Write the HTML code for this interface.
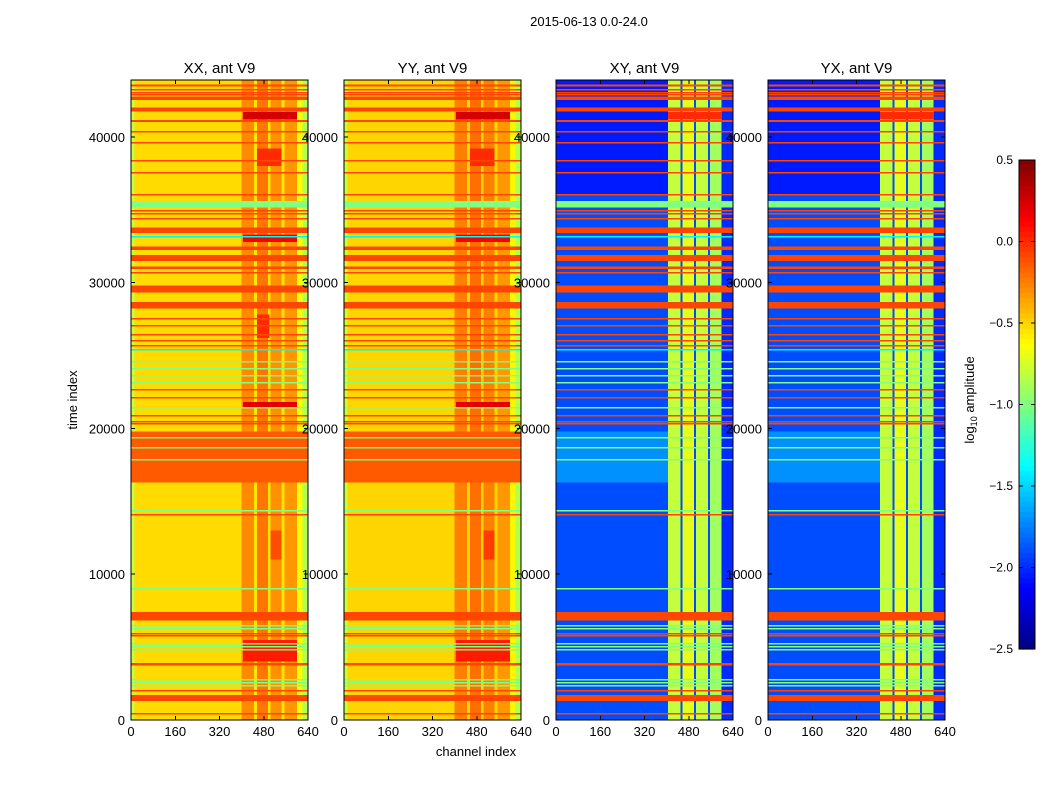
<!DOCTYPE html>
<html><head><meta charset="utf-8"><style>
body{margin:0;background:#fff;}
svg{display:block;font-family:"Liberation Sans",sans-serif;}
</style></head><body>
<svg id="fig" width="1050" height="800" viewBox="0 0 1050 800">
<text x="589" y="26" text-anchor="middle" font-size="13">2015-06-13 0.0-24.0</text>
<text x="476" y="756" text-anchor="middle" font-size="13">channel index</text>
<text transform="translate(77,400) rotate(-90)" text-anchor="middle" font-size="13">time index</text>
<text transform="translate(974,400) rotate(-90)" text-anchor="middle" font-size="13">log<tspan font-size="9" dy="3">10</tspan><tspan dy="-3"> amplitude</tspan></text>
<g id="panels" shape-rendering="crispEdges"></g>
<g id="cbar"></g>
</svg>
<script>
// ---- data ----
const panelTitles = ["XX, ant V9","YY, ant V9","XY, ant V9","YX, ant V9"];
const xTicks = [0,160,320,480,640];
const yTicks = [0,10000,20000,30000,40000];
const cbarTicks = [0.5,0.0,-0.5,-1.0,-1.5,-2.0,-2.5];
// column bands: [ch0, ch1, log amplitude]
const xxCols = [[0,12,-0.8],[12,400,-0.52],[400,445,-0.28],[445,455,-0.55],[455,495,-0.22],[495,505,-0.55],[505,545,-0.3],[545,555,-0.55],[555,600,-0.32],[600,620,-0.62],[620,640,-0.85]];
const yyCols = [[0,12,-0.8],[12,400,-0.5],[400,445,-0.25],[445,455,-0.5],[455,495,-0.2],[495,505,-0.5],[505,545,-0.25],[545,555,-0.5],[555,600,-0.32],[600,620,-0.6],[620,640,-0.85]];
const xyCols = [[0,405,-1.9],[405,451,-0.8],[451,458,-1.9],[458,499,-0.7],[499,506,-1.9],[506,550,-0.8],[550,557,-1.9],[557,599,-0.9],[599,640,-2.0]];
const yxCols = [[0,405,-1.9],[405,451,-0.8],[451,458,-1.9],[458,499,-0.7],[499,506,-1.9],[506,550,-0.8],[550,557,-1.9],[557,599,-0.9],[599,640,-2.0]];
// regions: [t0, t1, ch0, ch1, value]
const xxRegions = [[16300,19800,0,640,-0.14],[41200,41700,405,600,0.25],[32800,33300,405,600,0.15],[21400,21800,405,600,0.2],[4000,5500,405,600,0.05],[38000,39200,455,545,0.0],[26200,27800,455,500,0.0],[11000,13000,505,545,-0.1]];
const yyRegions = [[16300,19800,0,640,-0.14],[41200,41700,405,600,0.25],[32800,33300,405,600,0.15],[21400,21800,405,600,0.2],[4000,5500,405,600,0.05],[38000,39200,455,545,0.0],[11000,13000,505,545,-0.05]];
const xyRegions = [[36000,43900,0,405,-2.05],[16300,19800,0,405,-1.7],[41200,41700,405,600,0.0]];
const yxRegions = [[36000,43900,0,405,-2.05],[16300,19800,0,405,-1.7],[41200,41700,405,600,0.0]];
// wide stripes [t0, t1, value]
const wideStripes = [[43450,43600,-0.08],[42540,42770,-0.08],[41740,42010,-0.08],[41010,41170,-0.08],[38300,38420,-0.08],[35150,35600,-1.0],[33420,33780,-0.08],[32250,32480,-0.08],[31490,31900,-0.08],[30940,31100,-0.08],[29340,29800,-0.08],[28240,28660,-0.08],[6810,7410,-0.08],[3730,3910,-0.08],[1320,1710,-0.08]];
// thin stripe times and values
const thinTimes = [43290,43110,42930,40410,39680,37600,36090,34990,34785,34440,30760,27580,27100,26480,26070,25730,22690,22180,20930,20540,20380,14130,5950,5830,2060,480,24630,24150,23670,23210,14410,9060,6520,6310,5300,5100,4900,2800,2600,2400,21500,19400,18700,17900,33220,25450];
const thinValues = [-0.08,-0.08,-0.08,-0.08,-0.08,-0.08,-0.08,-0.08,-0.08,-0.08,-0.08,-0.08,-0.08,-0.08,-0.08,-0.08,-0.08,-0.08,-0.08,-0.08,-0.08,-0.08,-0.08,-0.08,-0.08,-0.08,-1.0,-1.0,-1.0,-1.0,-1.0,-1.0,-1.0,-1.0,-1.0,-1.0,-1.0,-1.0,-1.0,-1.0,-1.0,-1.0,-1.0,-1.0,-1.4,-1.4];

const NS="http://www.w3.org/2000/svg";
const VMIN=-2.5, VMAX=0.5, TMAX=43900, CMAX=640;
const lefts=[131,344,556,768], PW=177, TOP=80, BOT=720;
function clip(x){return Math.max(0,Math.min(1,x));}
function jet(v){const n=clip((v-VMIN)/(VMAX-VMIN));
 const r=clip(1.5-Math.abs(4*n-3)),g=clip(1.5-Math.abs(4*n-2)),b=clip(1.5-Math.abs(4*n-1));
 return "rgb("+Math.round(r*255)+","+Math.round(g*255)+","+Math.round(b*255)+")";}
function mk(tag,attrs,parent){const e=document.createElementNS(NS,tag);for(const k in attrs)e.setAttribute(k,attrs[k]);parent.appendChild(e);return e;}
const root=document.getElementById("panels");
const colsAll=[xxCols,yyCols,xyCols,yxCols];
const regAll=[xxRegions,yyRegions,xyRegions,yxRegions];
for(let p=0;p<4;p++){
 const L=lefts[p];
 const xs=c=>L+c/CMAX*PW;
 const ys=t=>BOT-t/TMAX*(BOT-TOP);
 const g=mk("g",{},root);
 
 
 colsAll[p].forEach(c=>{const r=mk("rect",{x:xs(c[0]),y:TOP,width:xs(c[1])-xs(c[0]),height:BOT-TOP,fill:jet(c[2])},g);
  
  });
 regAll[p].forEach(c=>{const r=mk("rect",{x:xs(c[2]),y:ys(c[1]),width:xs(c[3])-xs(c[2]),height:ys(c[0])-ys(c[1]),fill:jet(c[4])},g);
  
  });
 wideStripes.forEach(s=>{const r=mk("rect",{x:L,y:ys(s[1]),width:PW,height:ys(s[0])-ys(s[1]),fill:jet(s[2])},g);
  
  });
 thinTimes.forEach((t,i)=>{const r=mk("rect",{x:L,y:Math.round(ys(t)),width:PW,height:1.4,fill:jet(thinValues[i])},g);
  
  });
 const f=mk("rect",{x:L,y:TOP,width:PW,height:BOT-TOP,fill:"none",stroke:"#000","stroke-width":1},g);
 
 
 const tt=mk("text",{x:L+PW/2,y:73,"text-anchor":"middle","font-size":15},g);
 tt.textContent=panelTitles[p];
 
 
 xTicks.forEach(v=>{const x=xs(v);
  mk("line",{x1:x,x2:x,y1:BOT,y2:BOT-4,stroke:"#000"},g);
  mk("line",{x1:x,x2:x,y1:TOP,y2:TOP+4,stroke:"#000"},g);
  const t=mk("text",{x:x,y:BOT+16,"text-anchor":"middle","font-size":13},g);t.textContent=v;
  
  });
 yTicks.forEach(v=>{const y=ys(v);
  mk("line",{x1:L,x2:L+4,y1:y,y2:y,stroke:"#000"},g);
  mk("line",{x1:L+PW,x2:L+PW-4,y1:y,y2:y,stroke:"#000"},g);
  const t=mk("text",{x:L-6,y:y+5,"text-anchor":"end","font-size":13},g);t.textContent=v;
  
  });
}
// colorbar
const cb=document.getElementById("cbar");
const CX=1019,CW=16,CT=160,CB=649;
const cys=v=>CB-(v-VMIN)/(VMAX-VMIN)*(CB-CT);
const NSTEP=96;
for(let i=0;i<NSTEP;i++){const v0=VMIN+(VMAX-VMIN)*i/NSTEP,v1=VMIN+(VMAX-VMIN)*(i+1)/NSTEP;
 const r=mk("rect",{x:CX,y:cys(v1),width:CW,height:cys(v0)-cys(v1)+0.6,fill:jet((v0+v1)/2)},cb);
 
 }
const cf=mk("rect",{x:CX,y:CT,width:CW,height:CB-CT,fill:"none",stroke:"#000"},cb);


cbarTicks.forEach(v=>{const y=cys(v);
 mk("line",{x1:CX,x2:CX+4,y1:y,y2:y,stroke:"#000"},cb);
 mk("line",{x1:CX+CW-4,x2:CX+CW,y1:y,y2:y,stroke:"#000"},cb);
 const t=mk("text",{x:1013,y:y+4,"font-size":12,"text-anchor":"end"},cb);t.textContent=v.toFixed(1).replace("-","\u2212");
 
 });
</script>
</body></html>
